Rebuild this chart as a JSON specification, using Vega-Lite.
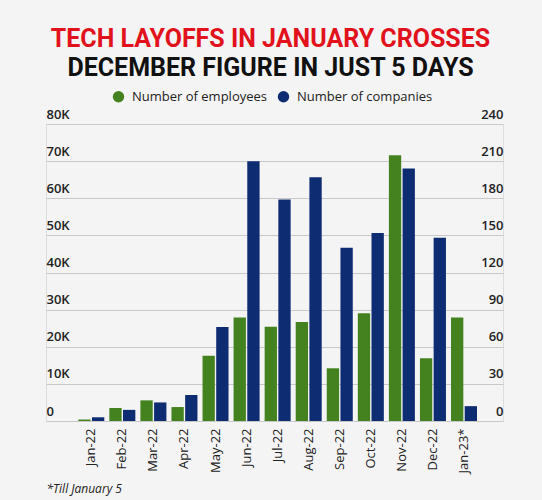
{
  "$schema": "https://vega.github.io/schema/vega-lite/v6.json",
  "width": 457,
  "height": 297,
  "autosize": {"type": "none"},
  "padding": {"left": 46, "top": 124, "right": 39, "bottom": 79},
  "background": "#f4f4f4",
  "title": {
    "text": "TECH LAYOFFS IN JANUARY CROSSES",
    "subtitle": "DECEMBER FIGURE IN JUST 5 DAYS",
    "color": "#e2121c",
    "subtitleColor": "#111111",
    "font": "Roboto",
    "subtitleFont": "Roboto",
    "fontSize": 25,
    "subtitleFontSize": 25,
    "fontWeight": "bold",
    "subtitleFontWeight": "bold",
    "subtitlePadding": 4,
    "anchor": "middle",
    "dx": -4,
    "offset": 9
  },
  "data": {
    "values": [
      {"month": "Jan-22", "series": "Number of employees", "value": 400},
      {"month": "Feb-22", "series": "Number of employees", "value": 3500},
      {"month": "Mar-22", "series": "Number of employees", "value": 5560},
      {"month": "Apr-22", "series": "Number of employees", "value": 3760},
      {"month": "May-22", "series": "Number of employees", "value": 17560},
      {"month": "Jun-22", "series": "Number of employees", "value": 27900},
      {"month": "Jul-22", "series": "Number of employees", "value": 25400},
      {"month": "Aug-22", "series": "Number of employees", "value": 26700},
      {"month": "Sep-22", "series": "Number of employees", "value": 14200},
      {"month": "Oct-22", "series": "Number of employees", "value": 29000},
      {"month": "Nov-22", "series": "Number of employees", "value": 71600},
      {"month": "Dec-22", "series": "Number of employees", "value": 16900},
      {"month": "Jan-23*", "series": "Number of employees", "value": 27900},
      {"month": "Jan-22", "series": "Number of companies", "value": 3},
      {"month": "Feb-22", "series": "Number of companies", "value": 9},
      {"month": "Mar-22", "series": "Number of companies", "value": 15},
      {"month": "Apr-22", "series": "Number of companies", "value": 21},
      {"month": "May-22", "series": "Number of companies", "value": 76},
      {"month": "Jun-22", "series": "Number of companies", "value": 210},
      {"month": "Jul-22", "series": "Number of companies", "value": 179},
      {"month": "Aug-22", "series": "Number of companies", "value": 197},
      {"month": "Sep-22", "series": "Number of companies", "value": 140},
      {"month": "Oct-22", "series": "Number of companies", "value": 152},
      {"month": "Nov-22", "series": "Number of companies", "value": 204},
      {"month": "Dec-22", "series": "Number of companies", "value": 148},
      {"month": "Jan-23*", "series": "Number of companies", "value": 12}
    ]
  },
  "encoding": {
    "x": {
      "field": "month",
      "type": "nominal",
      "sort": null,
      "scale": {
        "domain": ["Jan-22", "Feb-22", "Mar-22", "Apr-22", "May-22", "Jun-22", "Jul-22", "Aug-22", "Sep-22", "Oct-22", "Nov-22", "Dec-22", "Jan-23*"],
        "paddingInner": 0.163,
        "paddingOuter": 0.938,
        "align": 0.554
      },
      "axis": {
        "title": "*Till January 5",
        "titleFont": "Open Sans",
        "titleFontStyle": "italic",
        "titleFontWeight": "normal",
        "titleFontSize": 12,
        "titleColor": "#222222",
        "titleAnchor": "start",
        "titleAlign": "left",
        "titlePadding": 11,
        "labelAngle": 270,
        "labelAlign": "right",
        "labelBaseline": "middle",
        "labelPadding": 7,
        "labelFont": "Open Sans",
        "labelFontSize": 13,
        "labelColor": "#222222",
        "ticks": false,
        "domain": false
      }
    },
    "xOffset": {
      "field": "series",
      "type": "nominal",
      "scale": {"domain": ["Number of employees", "Number of companies"], "paddingInner": 0.1}
    },
    "color": {
      "field": "series",
      "type": "nominal",
      "scale": {"domain": ["Number of employees", "Number of companies"], "range": ["#44821f", "#0e2c72"]},
      "legend": {
        "orient": "none",
        "direction": "horizontal",
        "legendX": 66,
        "legendY": -34,
        "title": null,
        "symbolType": "circle",
        "symbolSize": 130,
        "symbolStrokeWidth": 0,
        "labelFont": "Open Sans",
        "labelFontSize": 13,
        "labelColor": "#222222",
        "labelOffset": 7,
        "columnPadding": 9
      }
    }
  },
  "layer": [
    {
      "transform": [{"filter": "datum.series === 'Number of employees'"}],
      "mark": {"type": "bar"},
      "encoding": {
        "y": {
          "field": "value",
          "type": "quantitative",
          "scale": {"domain": [0, 80000], "nice": false},
          "axis": {
            "orient": "left",
            "title": null,
            "values": [0, 10000, 20000, 30000, 40000, 50000, 60000, 70000, 80000],
            "labelExpr": "datum.value == 0 ? '0' : (datum.value / 1000) + 'K'",
            "ticks": false,
            "domain": false,
            "labelAlign": "left",
            "labelBaseline": "bottom",
            "labelPadding": 0,
            "labelOffset": -3,
            "labelFlush": false,
            "labelFont": "Open Sans",
            "labelFontSize": 13,
            "labelFontWeight": 600,
            "labelColor": "#222222",
            "grid": true,
            "gridColor": "#c8c8c8",
            "gridWidth": 1
          }
        }
      }
    },
    {
      "transform": [{"filter": "datum.series === 'Number of companies'"}],
      "mark": {"type": "bar"},
      "encoding": {
        "y": {
          "field": "value",
          "type": "quantitative",
          "scale": {"domain": [0, 240], "nice": false},
          "axis": {
            "orient": "right",
            "title": null,
            "values": [0, 30, 60, 90, 120, 150, 180, 210, 240],
            "ticks": false,
            "domain": false,
            "labelAlign": "right",
            "labelBaseline": "bottom",
            "labelPadding": 0,
            "labelOffset": -3,
            "labelFlush": false,
            "labelFont": "Open Sans",
            "labelFontSize": 13,
            "labelFontWeight": 600,
            "labelColor": "#222222",
            "grid": false
          }
        }
      }
    }
  ],
  "resolve": {"scale": {"y": "independent"}}
}
